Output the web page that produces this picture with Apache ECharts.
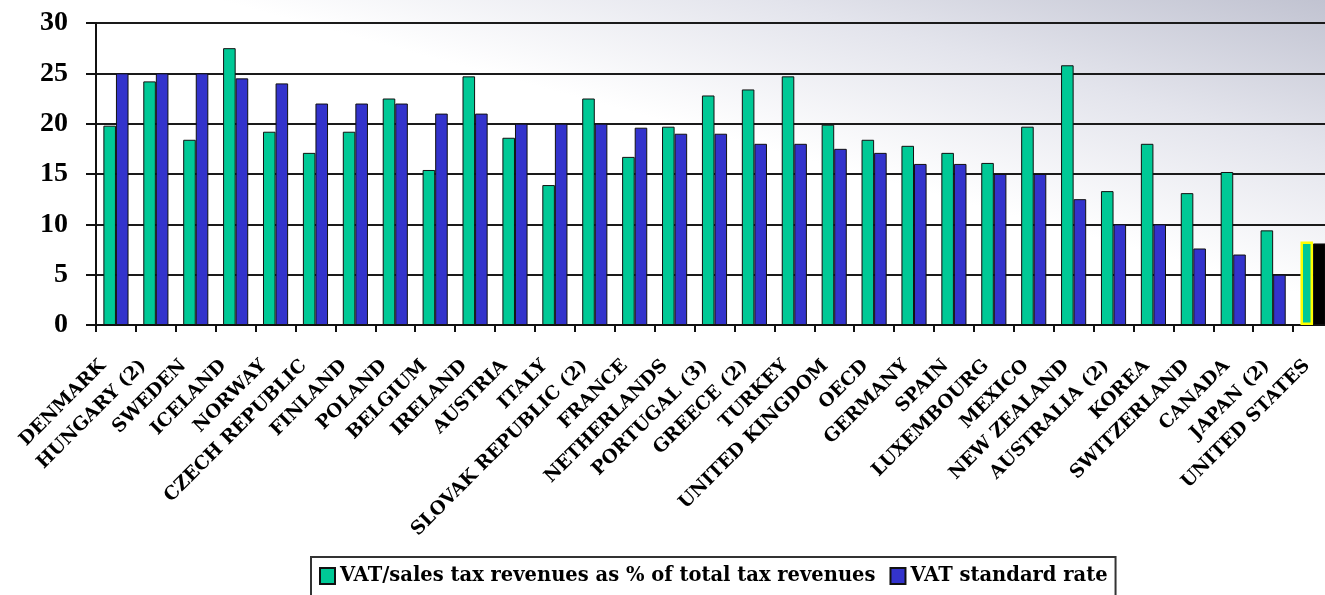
<!DOCTYPE html>
<html>
<head>
<meta charset="utf-8">
<script src="https://cdn.jsdelivr.net/npm/echarts@6/dist/echarts.min.js"></script>
<style>
html,body{margin:0;padding:0;background:#fff;}
#chart{width:1325px;height:595px;}
</style>
</head>
<body>
<div id="chart"></div>
<script>
const categories = ['DENMARK','HUNGARY (2)','SWEDEN','ICELAND','NORWAY','CZECH REPUBLIC','FINLAND','POLAND','BELGIUM','IRELAND','AUSTRIA','ITALY','SLOVAK REPUBLIC (2)','FRANCE','NETHERLANDS','PORTUGAL (3)','GREECE (2)','TURKEY','UNITED KINGDOM','OECD','GERMANY','SPAIN','LUXEMBOURG','MEXICO','NEW ZEALAND','AUSTRALIA (2)','KOREA','SWITZERLAND','CANADA','JAPAN (2)','UNITED STATES'];
const vatRevenueShare = [19.8,24.2,18.4,27.5,19.2,17.1,19.2,22.5,15.4,24.7,18.6,13.9,22.5,16.7,19.7,22.8,23.4,24.7,19.9,18.4,17.8,17.1,16.1,19.7,25.8,13.3,18.0,13.1,15.2,9.4,8.3];
const vatStandardRate = [25,25,25,24.5,24,22,22,22,21,21,20,20,20,19.6,19,19,18,18,17.5,17.1,16,16,15,15,12.5,10,10,7.6,7,5,8.1];
const yTicks = {min:0, max:30, interval:5};
const seriesNames = ['VAT/sales tax revenues as % of total tax revenues','VAT standard rate'];

const serif = '"Liberation Serif","Times New Roman",serif';
const wideSerif = '"DejaVu Serif","Liberation Serif",serif';
const lastIdx = categories.length - 1;

const greenData = vatRevenueShare.map((v,i)=> i===lastIdx ? {value:v, itemStyle:{borderColor:'#ffff00', borderWidth:2.5}} : v);
const blueData = vatStandardRate.map((v,i)=> i===lastIdx ? {value:v, itemStyle:{color:'#000'}} : v);

const chart = echarts.init(document.getElementById('chart'), null, {renderer:'canvas'});
chart.setOption({
  animation:false,
  backgroundColor:'#ffffff',
  graphic:[{
    type:'rect', silent:true, z:-100, zlevel:0,
    shape:{x:0, y:0, width:1325, height:595},
    style:{fill:{
      type:'linear', x:1, y:0, x2:0.9426, y2:0.4706,
      colorStops:[{offset:0,color:'#c1c3d1'},{offset:0.5,color:'#e3e4ec'},{offset:1,color:'#ffffff'}]
    }}
  }],
  grid:[
    {left:96, top:23, width:1237, height:302, containLabel:false, outerBoundsMode:'none'},
    {left:83, top:23, width:1244, height:302, containLabel:false, outerBoundsMode:'none'}
  ],
  legend:{
    left:311, top:557,
    data:seriesNames,
    backgroundColor:'#ffffff',
    borderColor:'#333', borderWidth:2, borderRadius:0,
    padding:[9,8,12,8],
    itemWidth:15, itemHeight:16, itemGap:14,
    icon:'rect',
    textStyle:{fontFamily:wideSerif, fontWeight:'bold', fontSize:19.5, color:'#000'}
  },
  xAxis:[
    {
      type:'category', gridIndex:0, data:categories,
      axisLine:{show:true, lineStyle:{color:'#111', width:2}},
      axisTick:{show:true, interval:0, length:7, lineStyle:{color:'#111', width:2}},
      axisLabel:{show:false},
      splitLine:{show:false}
    },
    {
      type:'category', gridIndex:1, data:categories,
      axisLine:{show:false}, axisTick:{show:false},
      axisLabel:{show:true, interval:0, rotate:45, margin:38,
        fontFamily:wideSerif, fontWeight:'bold', fontSize:18.5, color:'#000'}
    }
  ],
  yAxis:[
    {
      type:'value', gridIndex:0, min:yTicks.min, max:yTicks.max, interval:yTicks.interval,
      axisLine:{show:true, lineStyle:{color:'#111', width:2}},
      axisTick:{show:true, length:10, lineStyle:{color:'#111', width:2}},
      axisLabel:{margin:28, fontFamily:serif, fontWeight:'bold', fontSize:28, color:'#000'},
      splitLine:{show:true, lineStyle:{color:'#1a1a1a', width:2}}
    },
    {type:'value', gridIndex:1, show:false, min:0, max:30}
  ],
  series:[
    {
      name:seriesNames[0], type:'bar', xAxisIndex:0, yAxisIndex:0,
      data:greenData, barGap:'0%', barCategoryGap:'37%',
      itemStyle:{color:'#00c996', borderColor:'#111', borderWidth:1}
    },
    {
      name:seriesNames[1], type:'bar', xAxisIndex:0, yAxisIndex:0,
      data:blueData, barGap:'0%', barCategoryGap:'37%',
      itemStyle:{color:'#3333cc', borderColor:'#111', borderWidth:1}
    }
  ]
});
</script>
</body>
</html>
